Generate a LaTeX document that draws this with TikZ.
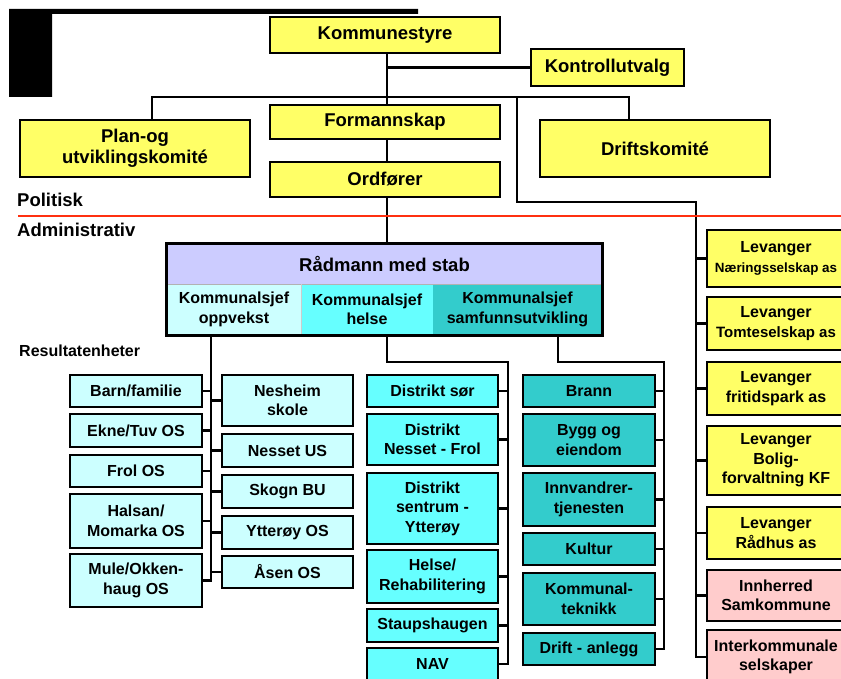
\documentclass[tikz,border=0pt]{standalone}
\usepackage{fontspec}
\setmainfont{Liberation Sans}
\usetikzlibrary{calc}
\definecolor{yel}{HTML}{FFFF66}
\definecolor{lav}{HTML}{CCCCFF}
\definecolor{lcy}{HTML}{CCFFFF}
\definecolor{cyn}{HTML}{66FFFF}
\definecolor{tea}{HTML}{33CCCC}
\definecolor{pnk}{HTML}{FFCCCC}
\definecolor{redl}{HTML}{FF3010}
\tikzset{
  bx/.style={draw=black, line width=2.8pt, align=center, inner sep=0pt,
    font=\bfseries\fontsize{16}{19.5}\selectfont},
  big/.style={font=\bfseries\fontsize{18.5}{20.5}\selectfont},
  cell/.style={align=center, inner sep=0pt, font=\bfseries\fontsize{16}{19.5}\selectfont},
  conn/.style={line width=2.8pt, draw=black},
  lbl/.style={anchor=base west, inner sep=0pt, font=\bfseries\fontsize{18.5}{20}\selectfont},
}
\begin{document}
\begin{tikzpicture}[x=1pt,y=-1pt]
\useasboundingbox (0,0) rectangle (841,679);
% black L shape
\fill[black] (9,9) -- (418,9) -- (418,14) -- (52,14) -- (52,97) -- (9,97) -- cycle;

% trunk coordinates
\coordinate (tx) at (387,0);
\coordinate (pl) at (152,97);
\coordinate (dr) at (629,97);
\coordinate (br) at (517,97);
\coordinate (bd) at (517,202);
\coordinate (rt) at (696,202);
\coordinate (opx) at (211,0);
\coordinate (hex) at (387,362);
\coordinate (hex2) at (508,362);
\coordinate (sax) at (558,362);
\coordinate (sax2) at (664,362);

% political nodes
\node[bx,big,fill=yel,minimum width=230pt,minimum height=36pt] (ks) at (385,35) {Kommunestyre};
\node[bx,big,fill=yel,minimum width=153pt,minimum height=37pt] (kon) at (607.5,67.5) {Kontrollutvalg};
\node[bx,big,fill=yel,minimum width=230pt,minimum height=34pt] (fs) at (385,122) {Formannskap};
\node[bx,big,fill=yel,minimum width=230pt,minimum height=35pt] (ord) at (385,179.5) {Ordfører};
\node[bx,big,fill=yel,minimum width=230pt,minimum height=57pt] (plan) at (135,148.5) {Plan-og\\utviklingskomité};
\node[bx,big,fill=yel,minimum width=230pt,minimum height=57pt] (drift) at (655,148.5) {Driftskomité};

% labels
\node[lbl] (pol) at (17,207) {Politisk};
\node[lbl] (adm) at (17,237) {Administrativ};
\node[lbl,font=\bfseries\fontsize{16}{18}\selectfont] (res) at (19,356) {Resultatenheter};
\coordinate (rl0) at (18,216);
\coordinate (rl1) at (841,216);

% Radmann block
\node[cell,fill=lav,minimum width=435pt,minimum height=40pt,font=\bfseries\fontsize{18.5}{20}\selectfont] (rad) at (384.5,264) {Rådmann med stab};
\node[cell,fill=lcy,minimum width=134pt,minimum height=51pt] (kop) at (234,309.5) {Kommunalsjef\\oppvekst};
\node[cell,fill=cyn,minimum width=132pt,minimum height=51pt] (khe) at (367,309.5) {Kommunalsjef\\helse};
\node[cell,fill=tea,minimum width=169pt,minimum height=51pt] (ksa) at (517.5,309.5) {Kommunalsjef\\samfunnsutvikling};
\draw[gray!60,line width=0.6pt] (rad.south west) -- (rad.south east);
\draw[gray!40,line width=0.6pt] (kop.north east) -- (kop.south east);
\draw[line width=2.8pt] (rad.north west) rectangle (ksa.south east);

% oppvekst columns
\node[bx,fill=lcy,minimum width=132pt,minimum height=32pt] (barn) at (136,391) {Barn/familie};
\node[bx,fill=lcy,minimum width=132pt,minimum height=33pt] (ekne) at (136,430.5) {Ekne/Tuv OS};
\node[bx,fill=lcy,minimum width=132pt,minimum height=32pt] (frol) at (136,471) {Frol OS};
\node[bx,fill=lcy,minimum width=132pt,minimum height=54pt] (hals) at (136,521) {Halsan/\\Momarka OS};
\node[bx,fill=lcy,minimum width=132pt,minimum height=53pt] (mule) at (136,580.5) {Mule/Okken-\\haug OS};
\node[bx,fill=lcy,minimum width=131pt,minimum height=51pt] (nesh) at (287.5,400.5) {Nesheim\\skole};
\node[bx,fill=lcy,minimum width=131pt,minimum height=33pt] (ness) at (287.5,450.5) {Nesset US};
\node[bx,fill=lcy,minimum width=131pt,minimum height=33pt] (skog) at (287.5,491.5) {Skogn BU};
\node[bx,fill=lcy,minimum width=131pt,minimum height=33pt] (ytt) at (287.5,532.5) {Ytterøy OS};
\node[bx,fill=lcy,minimum width=131pt,minimum height=32pt] (asen) at (287.5,572) {Åsen OS};

% helse column
\node[bx,fill=cyn,minimum width=131pt,minimum height=32pt] (dsor) at (432.5,391) {Distrikt sør};
\node[bx,fill=cyn,minimum width=131pt,minimum height=51pt] (dnf) at (432.5,439.5) {Distrikt\\Nesset - Frol};
\node[bx,fill=cyn,minimum width=131pt,minimum height=71pt] (dsy) at (432.5,508.5) {Distrikt\\sentrum -\\Ytterøy};
\node[bx,fill=cyn,minimum width=131pt,minimum height=53pt] (hre) at (432.5,576.5) {Helse/\\Rehabilitering};
\node[bx,fill=cyn,minimum width=131pt,minimum height=33pt] (stau) at (432.5,625.5) {Staupshaugen};
\node[bx,fill=cyn,minimum width=131pt,minimum height=32pt] (nav) at (432.5,664) {NAV};

% samfunn column
\node[bx,fill=tea,minimum width=132pt,minimum height=32pt] (brann) at (589,391) {Brann};
\node[bx,fill=tea,minimum width=132pt,minimum height=52pt] (bygg) at (589,440) {Bygg og\\eiendom};
\node[bx,fill=tea,minimum width=132pt,minimum height=53pt] (innv) at (589,499.5) {Innvandrer-\\tjenesten};
\node[bx,fill=tea,minimum width=132pt,minimum height=32pt] (kult) at (589,549) {Kultur};
\node[bx,fill=tea,minimum width=132pt,minimum height=52pt] (ktek) at (589,599) {Kommunal-\\teknikk};
\node[bx,fill=tea,minimum width=132pt,minimum height=32pt] (dran) at (589,649) {Drift - anlegg};

% right column
\node[bx,fill=yel,minimum width=138pt,minimum height=57pt] (lnae) at (776,258.5) {Levanger\\{\fontsize{13.4}{15}\selectfont Næringsselskap as}};
\node[bx,fill=yel,minimum width=138pt,minimum height=53pt] (ltom) at (776,323.5) {Levanger\\{\fontsize{15}{17}\selectfont Tomteselskap as}};
\node[bx,fill=yel,minimum width=138pt,minimum height=53pt] (lfri) at (776,388.5) {Levanger\\fritidspark as};
\node[bx,fill=yel,minimum width=138pt,minimum height=69pt] (lbol) at (776,460.5) {Levanger\\Bolig-\\forvaltning KF};
\node[bx,fill=yel,minimum width=138pt,minimum height=52pt] (lrad) at (776,533) {Levanger\\Rådhus as};
\node[bx,fill=pnk,minimum width=138pt,minimum height=51pt] (innh) at (776,595.5) {Innherred\\Samkommune};
\node[bx,fill=pnk,minimum width=138pt,minimum height=54pt] (inter) at (776,657) {Interkommunale\\selskaper};

% connectors (political)
\draw[conn] (ks.south -| tx) -- (fs.north -| tx);
\draw[conn] (tx |- kon.west) -- (kon.west);
\draw[conn] (fs.south -| tx) -- (ord.north -| tx);
\draw[conn] (ord.south -| tx) -- (rad.north -| tx);
\draw[conn] (plan.north -| pl) -- (pl) -- (dr) -- (drift.north -| dr);
\draw[conn] (br) -- (bd) -- (rt) -- (inter.west -| rt) -- (inter.west);
\foreach \n in {lnae,ltom,lfri,lbol,lrad,innh}{\draw[conn] (\n.west -| rt) -- (\n.west);}

% red separator (on top)
\draw[redl,line width=2.8pt] (rl0) -- (rl1);

% oppvekst
\draw[conn] (kop.south -| opx) -- (mule.east -| opx) -- (mule.east);
\foreach \n in {barn,ekne,frol,hals}{\draw[conn] (\n.east) -- (\n.east -| opx);}
\foreach \n in {nesh,ness,skog,ytt,asen}{\draw[conn] (\n.west -| opx) -- (\n.west);}

% helse
\draw[conn] (khe.south -| hex) -- (hex) -- (hex2) -- (nav.east -| hex2) -- (nav.east);
\foreach \n in {dsor,dnf,dsy,hre,stau}{\draw[conn] (\n.east) -- (\n.east -| hex2);}

% samfunn
\draw[conn] (ksa.south -| sax) -- (sax) -- (sax2) -- (dran.east -| sax2) -- (dran.east);
\foreach \n in {brann,bygg,innv,kult,ktek}{\draw[conn] (\n.east) -- (\n.east -| sax2);}
\end{tikzpicture}
\end{document}
